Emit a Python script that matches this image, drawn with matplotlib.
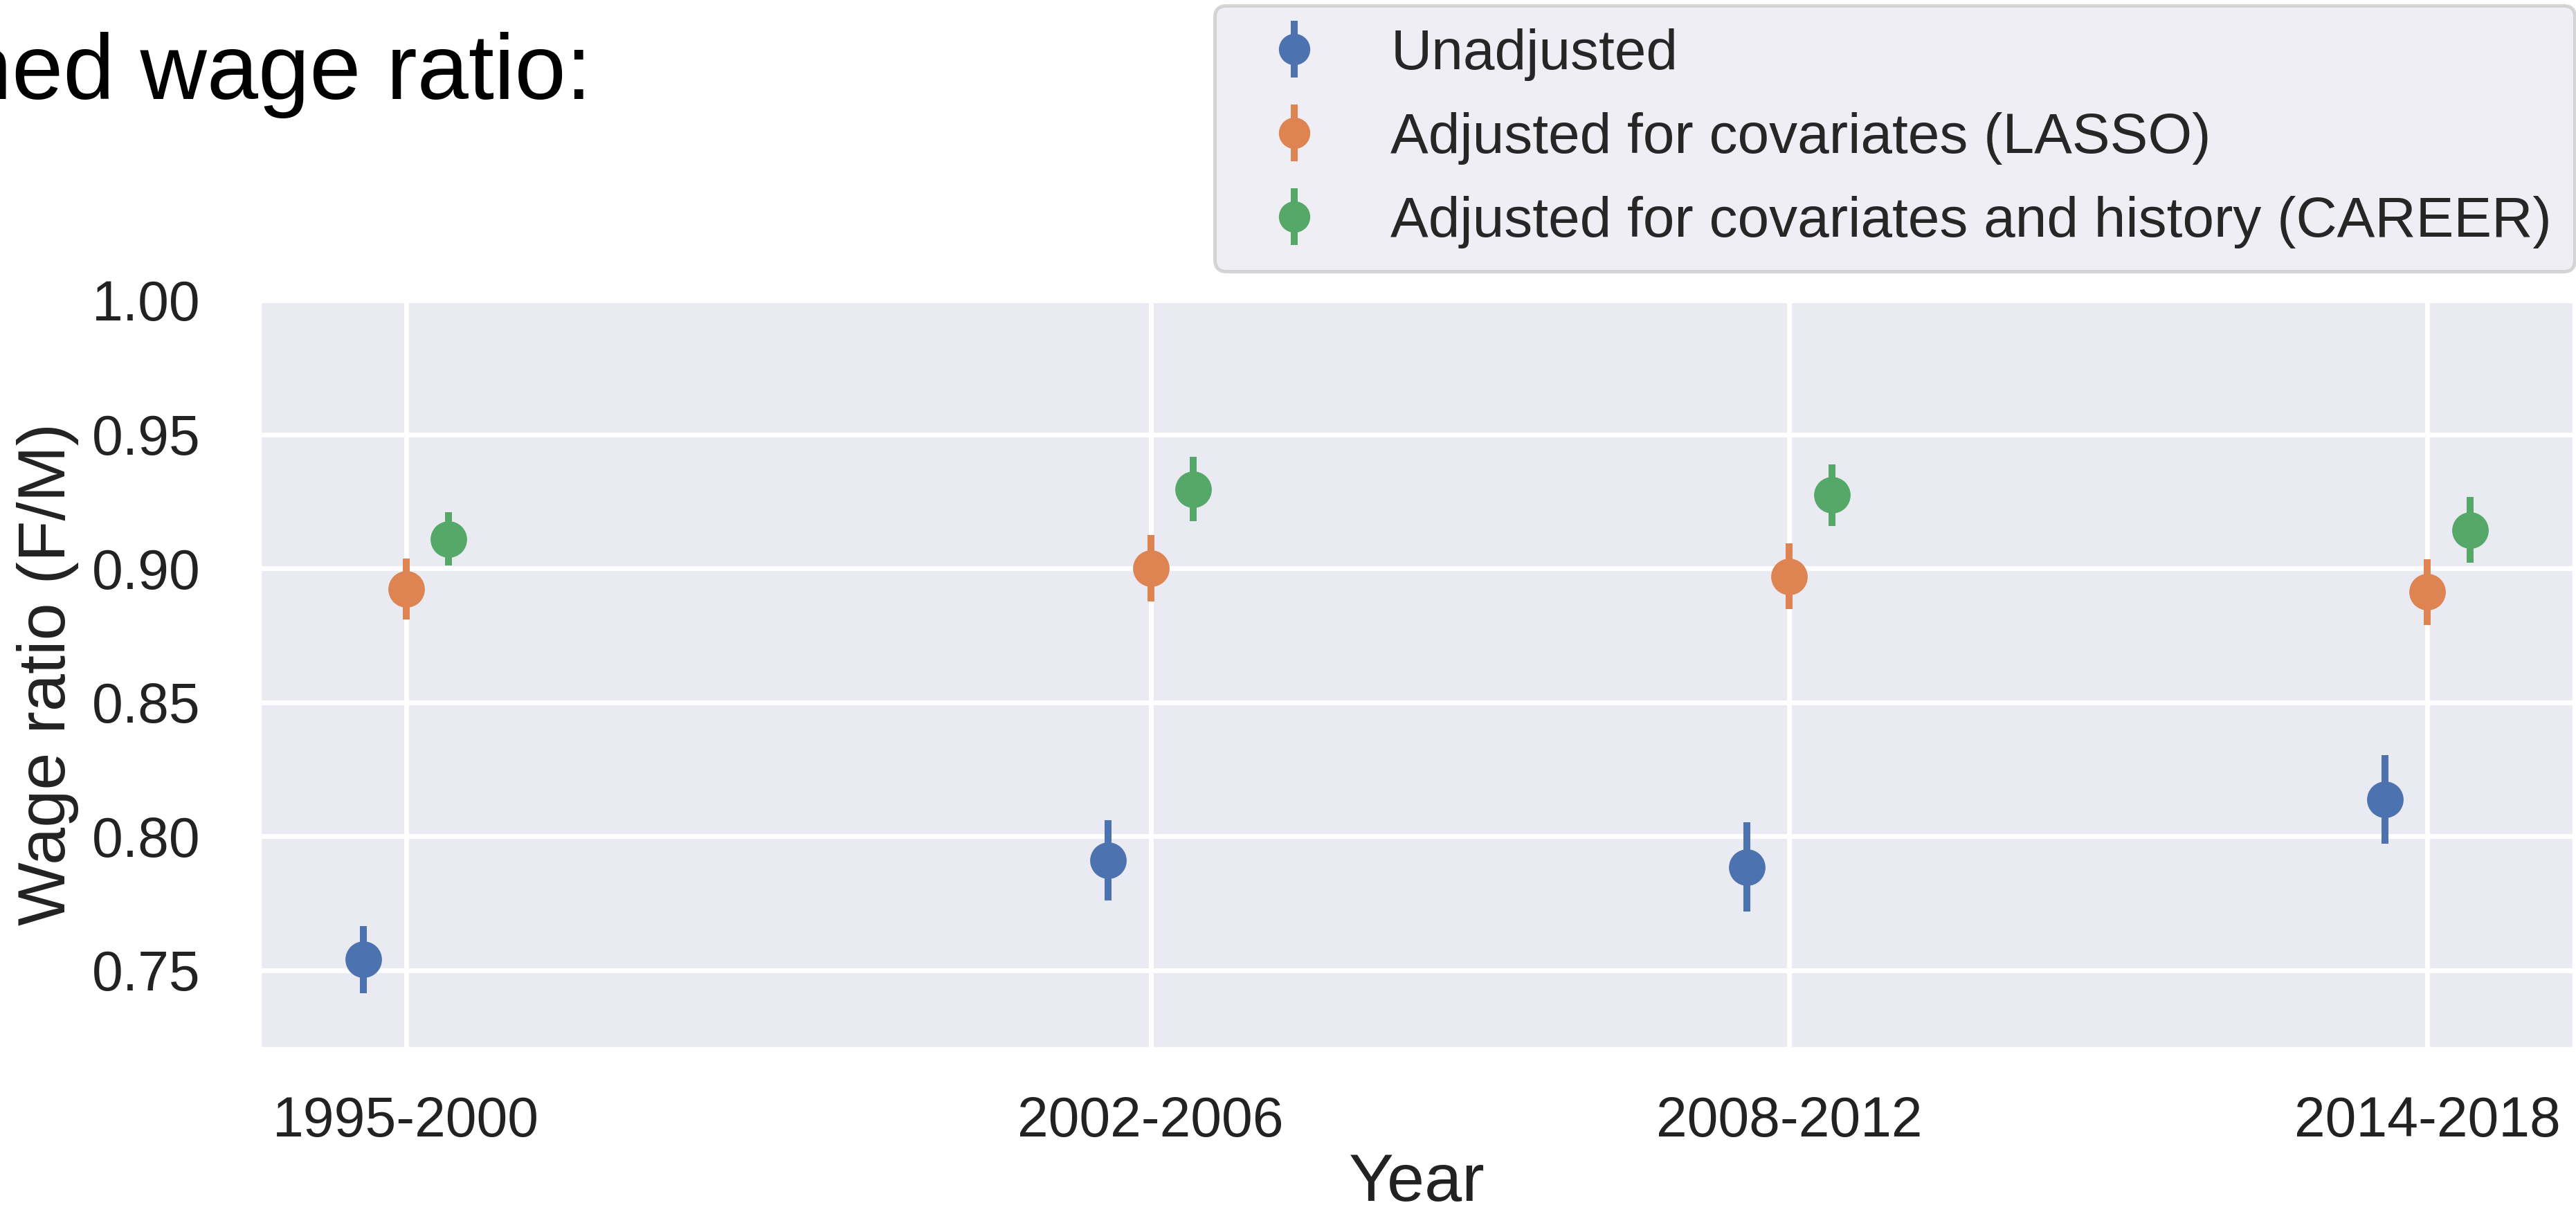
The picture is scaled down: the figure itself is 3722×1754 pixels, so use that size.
import numpy as np
import matplotlib
matplotlib.use("Agg")
import matplotlib.pyplot as plt
import seaborn as sns

# data
periods = ["1995-2000", "2002-2006", "2008-2012", "2014-2018"]
start_year = [1995, 2002, 2008, 2014]

unadj = [0.754, 0.791, 0.7885, 0.8138]
unadj_err = [0.0125, 0.015, 0.0166, 0.0165]
lasso = [0.8923, 0.900, 0.897, 0.8912]
lasso_err = [0.0113, 0.0123, 0.0123, 0.0123]
career = [0.911, 0.9295, 0.9273, 0.9143]
career_err = [0.010, 0.012, 0.0115, 0.0123]

labels = ["Unadjusted",
          "Adjusted for covariates (LASSO)",
          "Adjusted for covariates and history (CAREER)"]

sns.set_theme(style="darkgrid", palette="deep")
plt.rcParams["font.family"] = ["Liberation Sans", "DejaVu Sans"]
plt.rcParams["grid.linewidth"] = 2.5

W, H, DPI = 3723, 1754, 200
fig = plt.figure(figsize=(W / DPI, H / DPI), dpi=DPI)
ax = fig.add_axes([376 / W, 1 - 1514 / H, (3718 - 376) / W, (1514 - 434) / H])

colors = sns.color_palette("deep")
offsets = [-0.4, 0.0, 0.4]
series = [(unadj, unadj_err), (lasso, lasso_err), (career, career_err)]
handles = []
for i, (vals, errs) in enumerate(series):
    x = np.array(start_year) + offsets[i]
    h = ax.errorbar(x, vals, yerr=errs, fmt="o", color=colors[i],
                    markersize=18, elinewidth=3.6, capsize=0)
    handles.append(h)

ax.set_xlim(1993.63, 2015.37)
ax.set_ylim(0.721, 1.0)
ax.set_xticks(start_year)
ax.set_xticklabels(periods)
ax.set_yticks([0.75, 0.80, 0.85, 0.90, 0.95, 1.00])
ax.set_yticklabels(["0.75", "0.80", "0.85", "0.90", "0.95", "1.00"])
ax.tick_params(axis="x", labelsize=29, pad=19, colors="#222222")
ax.tick_params(axis="y", labelsize=29, pad=25, colors="#222222")
ax.set_xlabel("Year", fontsize=35, labelpad=2, color="#222222")
ax.set_ylabel("Wage ratio (F/M)", fontsize=35, labelpad=7, color="#222222")

fig.text(855 / W, 1 - 143 / H, "ned wage ratio:", ha="right", va="baseline",
         fontsize=48, color="black")

leg = fig.legend(handles, labels, loc="upper right",
                 bbox_to_anchor=(3720 / W, 1 - 8 / H), borderaxespad=0,
                 fontsize=29.5, markerscale=0.85, labelspacing=0.55,
                 handletextpad=0.7)
leg.get_frame().set_linewidth(1.8)

fig.savefig("out.png", dpi=DPI)
